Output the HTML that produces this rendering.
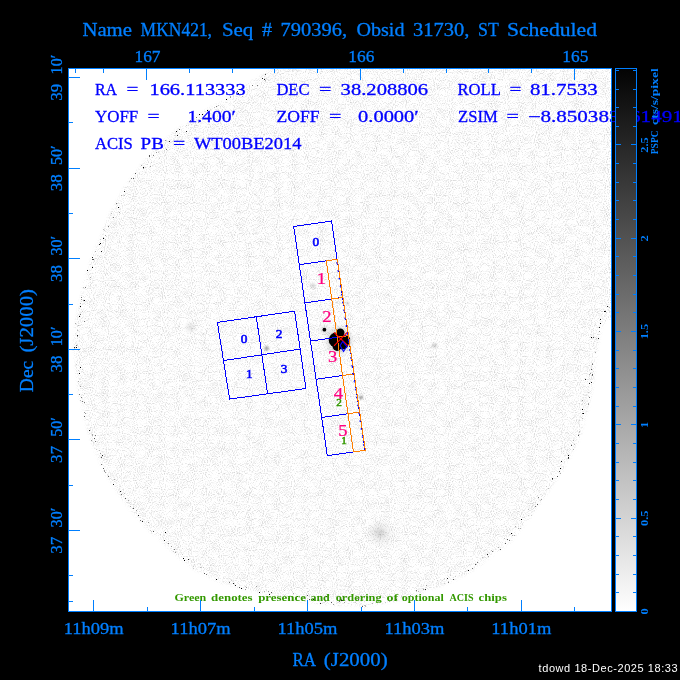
<!DOCTYPE html>
<html lang="en"><head><meta charset="utf-8"><title>MKN421 ACIS overlay</title>
<style>html,body{margin:0;padding:0;background:#000;}body{width:680px;height:680px;overflow:hidden;}svg{display:block;}text{font-family:'Liberation Serif', serif;white-space:pre;}</style></head><body>
<svg width="680" height="680" viewBox="0 0 680 680">
<defs>
<filter id="nz" x="0" y="0" width="100%" height="100%" color-interpolation-filters="sRGB"><feTurbulence type="fractalNoise" baseFrequency="0.93 0.87" numOctaves="1" seed="11" result="t1"/><feTurbulence type="fractalNoise" baseFrequency="0.11" numOctaves="2" seed="5" result="t2"/><feComposite in="t1" in2="t2" operator="arithmetic" k1="0" k2="0.9" k3="0.22" k4="0" result="m"/><feColorMatrix in="m" type="matrix" values="0 0 0 0 0  0 0 0 0 0  0 0 0 0 0  0 0 0 0.55 -0.297"/></filter>
<filter id="b1" x="-50%" y="-50%" width="200%" height="200%"><feGaussianBlur stdDeviation="1"/></filter>
<filter id="b15" x="-5%" y="-5%" width="110%" height="110%"><feGaussianBlur stdDeviation="1.6"/></filter>
<filter id="b2" x="-50%" y="-50%" width="200%" height="200%"><feGaussianBlur stdDeviation="2"/></filter>
<filter id="b4" x="-50%" y="-50%" width="200%" height="200%"><feGaussianBlur stdDeviation="4"/></filter>
<filter id="b07" x="-50%" y="-50%" width="200%" height="200%"><feGaussianBlur stdDeviation="0.7"/></filter>
<clipPath id="fld"><polygon points="273.0,68.0 611.5,68.0 611.5,307.0 602.5,325.0 597.5,350.0 593.7,382.5 587.5,412.5 580.0,437.5 570.0,457.5 562.5,470.0 548.0,492.0 530.0,518.0 510.0,542.5 490.0,557.5 470.0,572.5 450.0,582.5 430.0,590.0 402.5,600.0 365.0,607.5 340.0,606.0 307.0,602.5 270.0,596.0 245.0,590.0 220.0,582.5 195.0,570.0 175.0,555.0 163.0,542.5 145.5,527.5 130.5,510.0 115.5,490.0 103.0,470.0 93.0,447.5 85.5,422.5 79.2,397.5 75.5,370.0 73.0,347.5 74.2,330.0 79.2,305.0 84.2,280.0 91.7,257.5 100.0,238.0 108.5,215.5 123.5,188.0 144.5,160.5 170.5,134.2 193.0,118.0 207.0,109.0 220.0,102.7 234.7,92.4 252.4,80.8 268.5,70.6"/></clipPath>
<mask id="fm" maskUnits="userSpaceOnUse" x="60" y="50" width="570" height="570"><polygon points="273.0,56.0 624.0,56.0 624.0,307.0 602.5,325.0 597.5,350.0 593.7,382.5 587.5,412.5 580.0,437.5 570.0,457.5 562.5,470.0 548.0,492.0 530.0,518.0 510.0,542.5 490.0,557.5 470.0,572.5 450.0,582.5 430.0,590.0 402.5,600.0 365.0,607.5 340.0,606.0 307.0,602.5 270.0,596.0 245.0,590.0 220.0,582.5 195.0,570.0 175.0,555.0 163.0,542.5 145.5,527.5 130.5,510.0 115.5,490.0 103.0,470.0 93.0,447.5 85.5,422.5 79.2,397.5 75.5,370.0 73.0,347.5 74.2,330.0 79.2,305.0 84.2,280.0 91.7,257.5 100.0,238.0 108.5,215.5 123.5,188.0 144.5,160.5 170.5,134.2 193.0,118.0 207.0,109.0 220.0,102.7 234.7,92.4 252.4,80.8 268.5,70.6" fill="#fff" filter="url(#b15)"/></mask>
<linearGradient id="cb" x1="0" y1="0" x2="0" y2="1"><stop offset="0" stop-color="#030303"/><stop offset="1" stop-color="#ffffff"/></linearGradient>
<clipPath id="box"><rect x="69" y="69" width="542" height="542"/></clipPath>
</defs>
<rect x="0" y="0" width="680" height="680" fill="#000"/>
<rect x="68" y="68" width="544" height="544" fill="#fff"/>
<g clip-path="url(#box)"><g mask="url(#fm)">
<rect x="68" y="68" width="544" height="544" fill="#000" filter="url(#nz)"/>
<circle cx="190.5" cy="327.5" r="4" fill="#000" opacity="0.11" filter="url(#b2)"/>
<circle cx="434.5" cy="345.5" r="2.5" fill="#000" opacity="0.16" filter="url(#b1)"/>
<circle cx="380" cy="533" r="9" fill="#000" opacity="0.1" filter="url(#b4)"/>
<circle cx="380" cy="533" r="3.5" fill="#000" opacity="0.1" filter="url(#b2)"/>
<circle cx="266.6" cy="348.4" r="2.2" fill="#000" opacity="0.4" filter="url(#b1)"/>
<circle cx="361" cy="397.6" r="1.8" fill="#000" opacity="0.45" filter="url(#b1)"/>
<circle cx="347.4" cy="303.2" r="2" fill="#000" opacity="0.15" filter="url(#b1)"/>
<circle cx="313" cy="285.7" r="2.5" fill="#000" opacity="0.14" filter="url(#b1)"/>
<circle cx="324.4" cy="329.7" r="4" fill="#000" opacity="0.12" filter="url(#b2)"/>
<g filter="url(#b07)" fill="#000">
<circle cx="336.3" cy="340" r="7.6"/><circle cx="340.3" cy="332.8" r="4.2"/><circle cx="342.5" cy="343" r="6.4"/><circle cx="337" cy="346.5" r="4.4"/><circle cx="345.2" cy="340" r="5"/><circle cx="324.4" cy="329.7" r="1.9"/>
</g>
<circle cx="339" cy="340" r="13" fill="#000" opacity="0.12" filter="url(#b2)"/>
</g></g>
<g shape-rendering="crispEdges"><rect x="605" y="311" width="1" height="1" fill="#222"/><rect x="600" y="319" width="1" height="1" fill="#222"/><rect x="604" y="311" width="1" height="1" fill="#000"/><rect x="609" y="307" width="1" height="1" fill="#bbb"/><rect x="607" y="306" width="1" height="1" fill="#222"/><rect x="600" y="323" width="1" height="1" fill="#000"/><rect x="591" y="337" width="1" height="1" fill="#000"/><rect x="593" y="337" width="1" height="1" fill="#555"/><rect x="599" y="331" width="1" height="1" fill="#999"/><rect x="598" y="338" width="1" height="1" fill="#555"/><rect x="599" y="327" width="1" height="1" fill="#222"/><rect x="598" y="338" width="1" height="1" fill="#222"/><rect x="596" y="338" width="1" height="1" fill="#ccc"/><rect x="592" y="363" width="1" height="1" fill="#aaa"/><rect x="592" y="364" width="1" height="1" fill="#777"/><rect x="592" y="375" width="1" height="1" fill="#777"/><rect x="595" y="352" width="1" height="1" fill="#aaa"/><rect x="590" y="373" width="1" height="1" fill="#999"/><rect x="591" y="369" width="1" height="1" fill="#555"/><rect x="592" y="374" width="1" height="1" fill="#555"/><rect x="585" y="379" width="1" height="1" fill="#222"/><rect x="589" y="374" width="1" height="1" fill="#aaa"/><rect x="588" y="392" width="1" height="1" fill="#ccc"/><rect x="589" y="383" width="1" height="1" fill="#222"/><rect x="582" y="409" width="1" height="1" fill="#000"/><rect x="588" y="404" width="1" height="1" fill="#999"/><rect x="582" y="400" width="1" height="1" fill="#999"/><rect x="588" y="403" width="1" height="1" fill="#aaa"/><rect x="591" y="382" width="1" height="1" fill="#222"/><rect x="589" y="397" width="1" height="1" fill="#777"/><rect x="579" y="431" width="1" height="1" fill="#bbb"/><rect x="578" y="434" width="1" height="1" fill="#ccc"/><rect x="582" y="413" width="1" height="1" fill="#555"/><rect x="579" y="432" width="1" height="1" fill="#ccc"/><rect x="582" y="418" width="1" height="1" fill="#bbb"/><rect x="578" y="435" width="1" height="1" fill="#555"/><rect x="583" y="413" width="1" height="1" fill="#000"/><rect x="571" y="445" width="1" height="1" fill="#555"/><rect x="573" y="440" width="1" height="1" fill="#aaa"/><rect x="573" y="449" width="1" height="1" fill="#aaa"/><rect x="568" y="455" width="1" height="1" fill="#000"/><rect x="571" y="444" width="1" height="1" fill="#ccc"/><rect x="574" y="444" width="1" height="1" fill="#bbb"/><rect x="568" y="457" width="1" height="1" fill="#222"/><rect x="560" y="468" width="1" height="1" fill="#000"/><rect x="568" y="458" width="1" height="1" fill="#555"/><rect x="561" y="461" width="1" height="1" fill="#222"/><rect x="548" y="488" width="1" height="1" fill="#bbb"/><rect x="560" y="473" width="1" height="1" fill="#aaa"/><rect x="552" y="478" width="1" height="1" fill="#222"/><rect x="546" y="486" width="1" height="1" fill="#ccc"/><rect x="557" y="476" width="1" height="1" fill="#555"/><rect x="559" y="471" width="1" height="1" fill="#555"/><rect x="552" y="479" width="1" height="1" fill="#777"/><rect x="528" y="515" width="1" height="1" fill="#ccc"/><rect x="531" y="515" width="1" height="1" fill="#ccc"/><rect x="541" y="499" width="1" height="1" fill="#999"/><rect x="537" y="504" width="1" height="1" fill="#555"/><rect x="540" y="500" width="1" height="1" fill="#ccc"/><rect x="538" y="497" width="1" height="1" fill="#777"/><rect x="535" y="506" width="1" height="1" fill="#777"/><rect x="528" y="509" width="1" height="1" fill="#bbb"/><rect x="514" y="535" width="1" height="1" fill="#aaa"/><rect x="511" y="533" width="1" height="1" fill="#000"/><rect x="512" y="535" width="1" height="1" fill="#aaa"/><rect x="520" y="528" width="1" height="1" fill="#aaa"/><rect x="509" y="540" width="1" height="1" fill="#777"/><rect x="518" y="528" width="1" height="1" fill="#aaa"/><rect x="521" y="519" width="1" height="1" fill="#000"/><rect x="515" y="526" width="1" height="1" fill="#aaa"/><rect x="491" y="550" width="1" height="1" fill="#bbb"/><rect x="492" y="551" width="1" height="1" fill="#777"/><rect x="498" y="547" width="1" height="1" fill="#aaa"/><rect x="504" y="538" width="1" height="1" fill="#bbb"/><rect x="500" y="549" width="1" height="1" fill="#555"/><rect x="505" y="543" width="1" height="1" fill="#555"/><rect x="507" y="539" width="1" height="1" fill="#555"/><rect x="476" y="564" width="1" height="1" fill="#ccc"/><rect x="475" y="564" width="1" height="1" fill="#555"/><rect x="487" y="554" width="1" height="1" fill="#222"/><rect x="477" y="562" width="1" height="1" fill="#777"/><rect x="472" y="568" width="1" height="1" fill="#777"/><rect x="488" y="556" width="1" height="1" fill="#aaa"/><rect x="482" y="557" width="1" height="1" fill="#bbb"/><rect x="450" y="575" width="1" height="1" fill="#ccc"/><rect x="455" y="576" width="1" height="1" fill="#ccc"/><rect x="459" y="573" width="1" height="1" fill="#ccc"/><rect x="465" y="571" width="1" height="1" fill="#ccc"/><rect x="468" y="570" width="1" height="1" fill="#000"/><rect x="453" y="579" width="1" height="1" fill="#555"/><rect x="444" y="578" width="1" height="1" fill="#ccc"/><rect x="448" y="581" width="1" height="1" fill="#ccc"/><rect x="437" y="580" width="1" height="1" fill="#ccc"/><rect x="448" y="582" width="1" height="1" fill="#777"/><rect x="444" y="583" width="1" height="1" fill="#ccc"/><rect x="447" y="578" width="1" height="1" fill="#222"/><rect x="416" y="591" width="1" height="1" fill="#ccc"/><rect x="423" y="589" width="1" height="1" fill="#999"/><rect x="416" y="590" width="1" height="1" fill="#777"/><rect x="410" y="595" width="1" height="1" fill="#999"/><rect x="403" y="597" width="1" height="1" fill="#ccc"/><rect x="425" y="589" width="1" height="1" fill="#222"/><rect x="418" y="591" width="1" height="1" fill="#bbb"/><rect x="426" y="585" width="1" height="1" fill="#999"/><rect x="372" y="603" width="1" height="1" fill="#aaa"/><rect x="396" y="599" width="1" height="1" fill="#555"/><rect x="365" y="605" width="1" height="1" fill="#bbb"/><rect x="367" y="597" width="1" height="1" fill="#555"/><rect x="365" y="606" width="1" height="1" fill="#bbb"/><rect x="364" y="605" width="1" height="1" fill="#bbb"/><rect x="389" y="601" width="1" height="1" fill="#aaa"/><rect x="401" y="596" width="1" height="1" fill="#ccc"/><rect x="385" y="602" width="1" height="1" fill="#ccc"/><rect x="378" y="601" width="1" height="1" fill="#ccc"/><rect x="341" y="599" width="1" height="1" fill="#777"/><rect x="341" y="600" width="1" height="1" fill="#222"/><rect x="362" y="606" width="1" height="1" fill="#555"/><rect x="358" y="599" width="1" height="1" fill="#555"/><rect x="344" y="602" width="1" height="1" fill="#999"/><rect x="355" y="602" width="1" height="1" fill="#ccc"/><rect x="342" y="600" width="1" height="1" fill="#222"/><rect x="331" y="602" width="1" height="1" fill="#555"/><rect x="326" y="596" width="1" height="1" fill="#222"/><rect x="313" y="599" width="1" height="1" fill="#222"/><rect x="320" y="603" width="1" height="1" fill="#222"/><rect x="325" y="601" width="1" height="1" fill="#aaa"/><rect x="307" y="595" width="1" height="1" fill="#555"/><rect x="339" y="601" width="1" height="1" fill="#777"/><rect x="309" y="599" width="1" height="1" fill="#555"/><rect x="333" y="604" width="1" height="1" fill="#999"/><rect x="284" y="595" width="1" height="1" fill="#ccc"/><rect x="288" y="598" width="1" height="1" fill="#555"/><rect x="297" y="596" width="1" height="1" fill="#000"/><rect x="308" y="591" width="1" height="1" fill="#ccc"/><rect x="286" y="597" width="1" height="1" fill="#ccc"/><rect x="303" y="597" width="1" height="1" fill="#bbb"/><rect x="284" y="590" width="1" height="1" fill="#ccc"/><rect x="296" y="598" width="1" height="1" fill="#777"/><rect x="271" y="592" width="1" height="1" fill="#555"/><rect x="293" y="593" width="1" height="1" fill="#aaa"/><rect x="245" y="589" width="1" height="1" fill="#999"/><rect x="259" y="592" width="1" height="1" fill="#000"/><rect x="268" y="591" width="1" height="1" fill="#999"/><rect x="256" y="586" width="1" height="1" fill="#999"/><rect x="269" y="594" width="1" height="1" fill="#000"/><rect x="264" y="591" width="1" height="1" fill="#aaa"/><rect x="246" y="587" width="1" height="1" fill="#999"/><rect x="239" y="587" width="1" height="1" fill="#555"/><rect x="245" y="586" width="1" height="1" fill="#ccc"/><rect x="229" y="582" width="1" height="1" fill="#777"/><rect x="233" y="583" width="1" height="1" fill="#222"/><rect x="241" y="588" width="1" height="1" fill="#000"/><rect x="235" y="585" width="1" height="1" fill="#222"/><rect x="231" y="580" width="1" height="1" fill="#ccc"/><rect x="200" y="567" width="1" height="1" fill="#bbb"/><rect x="203" y="567" width="1" height="1" fill="#ccc"/><rect x="216" y="579" width="1" height="1" fill="#000"/><rect x="201" y="567" width="1" height="1" fill="#ccc"/><rect x="204" y="573" width="1" height="1" fill="#555"/><rect x="200" y="564" width="1" height="1" fill="#ccc"/><rect x="206" y="574" width="1" height="1" fill="#777"/><rect x="193" y="568" width="1" height="1" fill="#000"/><rect x="193" y="566" width="1" height="1" fill="#ccc"/><rect x="184" y="560" width="1" height="1" fill="#000"/><rect x="183" y="558" width="1" height="1" fill="#000"/><rect x="188" y="559" width="1" height="1" fill="#222"/><rect x="182" y="554" width="1" height="1" fill="#ccc"/><rect x="193" y="568" width="1" height="1" fill="#ccc"/><rect x="174" y="549" width="1" height="1" fill="#777"/><rect x="173" y="551" width="1" height="1" fill="#ccc"/><rect x="171" y="546" width="1" height="1" fill="#999"/><rect x="168" y="543" width="1" height="1" fill="#777"/><rect x="175" y="552" width="1" height="1" fill="#999"/><rect x="153" y="531" width="1" height="1" fill="#555"/><rect x="164" y="540" width="1" height="1" fill="#222"/><rect x="151" y="531" width="1" height="1" fill="#ccc"/><rect x="160" y="534" width="1" height="1" fill="#ccc"/><rect x="150" y="530" width="1" height="1" fill="#ccc"/><rect x="165" y="532" width="1" height="1" fill="#000"/><rect x="142" y="521" width="1" height="1" fill="#222"/><rect x="136" y="510" width="1" height="1" fill="#999"/><rect x="140" y="520" width="1" height="1" fill="#777"/><rect x="148" y="522" width="1" height="1" fill="#999"/><rect x="133" y="508" width="1" height="1" fill="#555"/><rect x="138" y="515" width="1" height="1" fill="#222"/><rect x="121" y="494" width="1" height="1" fill="#777"/><rect x="125" y="498" width="1" height="1" fill="#555"/><rect x="132" y="508" width="1" height="1" fill="#ccc"/><rect x="124" y="493" width="1" height="1" fill="#bbb"/><rect x="128" y="500" width="1" height="1" fill="#aaa"/><rect x="130" y="506" width="1" height="1" fill="#aaa"/><rect x="120" y="491" width="1" height="1" fill="#222"/><rect x="104" y="470" width="1" height="1" fill="#999"/><rect x="113" y="484" width="1" height="1" fill="#222"/><rect x="114" y="479" width="1" height="1" fill="#aaa"/><rect x="104" y="471" width="1" height="1" fill="#999"/><rect x="105" y="472" width="1" height="1" fill="#999"/><rect x="108" y="476" width="1" height="1" fill="#555"/><rect x="101" y="464" width="1" height="1" fill="#777"/><rect x="99" y="450" width="1" height="1" fill="#bbb"/><rect x="96" y="449" width="1" height="1" fill="#ccc"/><rect x="102" y="455" width="1" height="1" fill="#222"/><rect x="103" y="468" width="1" height="1" fill="#555"/><rect x="100" y="453" width="1" height="1" fill="#999"/><rect x="101" y="457" width="1" height="1" fill="#555"/><rect x="92" y="434" width="1" height="1" fill="#aaa"/><rect x="91" y="440" width="1" height="1" fill="#999"/><rect x="95" y="435" width="1" height="1" fill="#777"/><rect x="94" y="438" width="1" height="1" fill="#555"/><rect x="89" y="430" width="1" height="1" fill="#222"/><rect x="95" y="441" width="1" height="1" fill="#777"/><rect x="92" y="435" width="1" height="1" fill="#aaa"/><rect x="81" y="397" width="1" height="1" fill="#777"/><rect x="84" y="416" width="1" height="1" fill="#555"/><rect x="85" y="413" width="1" height="1" fill="#999"/><rect x="82" y="401" width="1" height="1" fill="#777"/><rect x="80" y="400" width="1" height="1" fill="#bbb"/><rect x="84" y="402" width="1" height="1" fill="#777"/><rect x="84" y="412" width="1" height="1" fill="#999"/><rect x="78" y="381" width="1" height="1" fill="#aaa"/><rect x="84" y="393" width="1" height="1" fill="#777"/><rect x="79" y="394" width="1" height="1" fill="#777"/><rect x="80" y="386" width="1" height="1" fill="#999"/><rect x="79" y="373" width="1" height="1" fill="#000"/><rect x="84" y="393" width="1" height="1" fill="#ccc"/><rect x="78" y="370" width="1" height="1" fill="#ccc"/><rect x="82" y="369" width="1" height="1" fill="#ccc"/><rect x="78" y="350" width="1" height="1" fill="#ccc"/><rect x="76" y="364" width="1" height="1" fill="#ccc"/><rect x="74" y="347" width="1" height="1" fill="#222"/><rect x="74" y="348" width="1" height="1" fill="#ccc"/><rect x="80" y="367" width="1" height="1" fill="#000"/><rect x="76" y="347" width="1" height="1" fill="#000"/><rect x="77" y="336" width="1" height="1" fill="#999"/><rect x="77" y="330" width="1" height="1" fill="#bbb"/><rect x="77" y="335" width="1" height="1" fill="#222"/><rect x="76" y="345" width="1" height="1" fill="#777"/><rect x="84" y="321" width="1" height="1" fill="#777"/><rect x="82" y="311" width="1" height="1" fill="#ccc"/><rect x="75" y="323" width="1" height="1" fill="#aaa"/><rect x="80" y="314" width="1" height="1" fill="#777"/><rect x="79" y="316" width="1" height="1" fill="#000"/><rect x="80" y="306" width="1" height="1" fill="#000"/><rect x="78" y="325" width="1" height="1" fill="#bbb"/><rect x="80" y="303" width="1" height="1" fill="#aaa"/><rect x="84" y="300" width="1" height="1" fill="#000"/><rect x="83" y="287" width="1" height="1" fill="#bbb"/><rect x="83" y="300" width="1" height="1" fill="#999"/><rect x="85" y="287" width="1" height="1" fill="#777"/><rect x="81" y="297" width="1" height="1" fill="#777"/><rect x="81" y="299" width="1" height="1" fill="#999"/><rect x="90" y="279" width="1" height="1" fill="#ccc"/><rect x="92" y="267" width="1" height="1" fill="#000"/><rect x="93" y="259" width="1" height="1" fill="#555"/><rect x="92" y="259" width="1" height="1" fill="#555"/><rect x="87" y="270" width="1" height="1" fill="#000"/><rect x="90" y="277" width="1" height="1" fill="#aaa"/><rect x="99" y="244" width="1" height="1" fill="#222"/><rect x="100" y="239" width="1" height="1" fill="#ccc"/><rect x="100" y="243" width="1" height="1" fill="#000"/><rect x="95" y="251" width="1" height="1" fill="#aaa"/><rect x="101" y="251" width="1" height="1" fill="#222"/><rect x="92" y="257" width="1" height="1" fill="#222"/><rect x="108" y="226" width="1" height="1" fill="#777"/><rect x="103" y="229" width="1" height="1" fill="#bbb"/><rect x="103" y="237" width="1" height="1" fill="#ccc"/><rect x="105" y="235" width="1" height="1" fill="#aaa"/><rect x="104" y="230" width="1" height="1" fill="#ccc"/><rect x="105" y="239" width="1" height="1" fill="#bbb"/><rect x="103" y="238" width="1" height="1" fill="#000"/><rect x="116" y="203" width="1" height="1" fill="#777"/><rect x="121" y="195" width="1" height="1" fill="#aaa"/><rect x="118" y="207" width="1" height="1" fill="#000"/><rect x="119" y="212" width="1" height="1" fill="#aaa"/><rect x="124" y="191" width="1" height="1" fill="#222"/><rect x="113" y="217" width="1" height="1" fill="#777"/><rect x="111" y="213" width="1" height="1" fill="#bbb"/><rect x="124" y="195" width="1" height="1" fill="#bbb"/><rect x="143" y="167" width="1" height="1" fill="#000"/><rect x="143" y="168" width="1" height="1" fill="#999"/><rect x="141" y="165" width="1" height="1" fill="#aaa"/><rect x="145" y="167" width="1" height="1" fill="#ccc"/><rect x="131" y="178" width="1" height="1" fill="#777"/><rect x="133" y="178" width="1" height="1" fill="#555"/><rect x="129" y="181" width="1" height="1" fill="#ccc"/><rect x="135" y="173" width="1" height="1" fill="#555"/><rect x="150" y="166" width="1" height="1" fill="#999"/><rect x="166" y="149" width="1" height="1" fill="#777"/><rect x="151" y="162" width="1" height="1" fill="#ccc"/><rect x="149" y="156" width="1" height="1" fill="#555"/><rect x="158" y="152" width="1" height="1" fill="#ccc"/><rect x="169" y="141" width="1" height="1" fill="#222"/><rect x="165" y="140" width="1" height="1" fill="#999"/><rect x="156" y="152" width="1" height="1" fill="#999"/><rect x="149" y="155" width="1" height="1" fill="#555"/><rect x="153" y="155" width="1" height="1" fill="#777"/><rect x="159" y="158" width="1" height="1" fill="#ccc"/><rect x="186" y="131" width="1" height="1" fill="#222"/><rect x="186" y="125" width="1" height="1" fill="#ccc"/><rect x="190" y="120" width="1" height="1" fill="#777"/><rect x="190" y="121" width="1" height="1" fill="#999"/><rect x="176" y="131" width="1" height="1" fill="#000"/><rect x="177" y="135" width="1" height="1" fill="#222"/><rect x="179" y="129" width="1" height="1" fill="#555"/><rect x="199" y="114" width="1" height="1" fill="#000"/><rect x="198" y="122" width="1" height="1" fill="#aaa"/><rect x="196" y="117" width="1" height="1" fill="#777"/><rect x="207" y="110" width="1" height="1" fill="#000"/><rect x="202" y="114" width="1" height="1" fill="#000"/><rect x="218" y="105" width="1" height="1" fill="#bbb"/><rect x="216" y="106" width="1" height="1" fill="#777"/><rect x="208" y="111" width="1" height="1" fill="#ccc"/><rect x="214" y="107" width="1" height="1" fill="#bbb"/><rect x="230" y="96" width="1" height="1" fill="#555"/><rect x="230" y="97" width="1" height="1" fill="#999"/><rect x="226" y="99" width="1" height="1" fill="#999"/><rect x="230" y="96" width="1" height="1" fill="#aaa"/><rect x="226" y="99" width="1" height="1" fill="#000"/><rect x="252" y="85" width="1" height="1" fill="#777"/><rect x="241" y="88" width="1" height="1" fill="#bbb"/><rect x="242" y="96" width="1" height="1" fill="#bbb"/><rect x="237" y="91" width="1" height="1" fill="#222"/><rect x="243" y="90" width="1" height="1" fill="#555"/><rect x="238" y="93" width="1" height="1" fill="#000"/><rect x="264" y="79" width="1" height="1" fill="#222"/><rect x="265" y="80" width="1" height="1" fill="#aaa"/><rect x="265" y="74" width="1" height="1" fill="#555"/><rect x="262" y="78" width="1" height="1" fill="#222"/><rect x="257" y="85" width="1" height="1" fill="#777"/></g>
<g fill="none" stroke="#0000ff" stroke-width="1" shape-rendering="crispEdges">
<polygon points="217.4,322.4 294.6,311.2 305.9,388.5 229.6,399.1"/>
<line x1="256.3" y1="316.8" x2="267.6" y2="394"/><line x1="223.5" y1="360.6" x2="299.7" y2="349.1"/>
<polygon points="293.7,226.5 331.5,221.0 365.1,450.2 327.3,455.7"/>
<line x1="299.3" y1="264.7" x2="337.1" y2="259.2"/>
<line x1="304.9" y1="302.9" x2="342.7" y2="297.4"/>
<line x1="310.5" y1="341.1" x2="348.3" y2="335.6"/>
<line x1="316.1" y1="379.3" x2="353.9" y2="373.8"/>
<line x1="321.7" y1="417.5" x2="359.5" y2="412.0"/>
</g>
<g fill="none" stroke="#ff7f00" stroke-width="1" shape-rendering="crispEdges">
<polygon points="326.3,260.8 337.3,259.2 365.3,450.2 353.4,451.9"/>
<line x1="331.7" y1="299.0" x2="342.9" y2="297.4"/>
<line x1="337.1" y1="337.2" x2="348.5" y2="335.6"/>
<line x1="342.6" y1="375.5" x2="354.1" y2="373.8"/>
<line x1="348.0" y1="413.7" x2="359.7" y2="412.0"/>
</g>
<line x1="336.3" y1="259.2" x2="364.3" y2="450.2" stroke="#0000ff" stroke-width="1" stroke-dasharray="1.6 6.4" stroke-dashoffset="-3"/>
<g stroke="#ff0000" stroke-width="1.1"><line x1="334" y1="332.3" x2="347.7" y2="345.5"/><line x1="334" y1="345.8" x2="347.2" y2="332.4"/></g>
<polygon points="342.6,341.5 340.2,345.5 343.5,351.5 346.8,346.6" fill="none" stroke="#0000ff" stroke-width="1.1"/>
<text transform="translate(244.10 342.76) scale(1.05 1)" font-size="12.6" fill="#0000ff" text-anchor="middle" font-weight="normal" stroke="#0000ff" stroke-width="0.6">0</text>
<text transform="translate(279.10 337.96) scale(1.05 1)" font-size="12.6" fill="#0000ff" text-anchor="middle" font-weight="normal" stroke="#0000ff" stroke-width="0.6">2</text>
<text transform="translate(249.40 377.96) scale(1.05 1)" font-size="12.6" fill="#0000ff" text-anchor="middle" font-weight="normal" stroke="#0000ff" stroke-width="0.6">1</text>
<text transform="translate(284.00 372.76) scale(1.05 1)" font-size="12.6" fill="#0000ff" text-anchor="middle" font-weight="normal" stroke="#0000ff" stroke-width="0.6">3</text>
<text transform="translate(315.70 245.86) scale(1.05 1)" font-size="12.6" fill="#0000ff" text-anchor="middle" font-weight="normal" stroke="#0000ff" stroke-width="0.6">0</text>
<text transform="translate(321.50 284.01) scale(1.12 1)" font-size="16.6" fill="#ff007f" text-anchor="middle" font-weight="normal" stroke="#ff007f" stroke-width="0.25">1</text>
<text transform="translate(326.80 322.11) scale(1.12 1)" font-size="16.6" fill="#ff007f" text-anchor="middle" font-weight="normal" stroke="#ff007f" stroke-width="0.25">2</text>
<text transform="translate(332.60 361.81) scale(1.12 1)" font-size="16.6" fill="#ff007f" text-anchor="middle" font-weight="normal" stroke="#ff007f" stroke-width="0.25">3</text>
<text transform="translate(338.50 398.81) scale(1.12 1)" font-size="16.6" fill="#ff007f" text-anchor="middle" font-weight="normal" stroke="#ff007f" stroke-width="0.25">4</text>
<text transform="translate(343.00 436.21) scale(1.12 1)" font-size="16.6" fill="#ff007f" text-anchor="middle" font-weight="normal" stroke="#ff007f" stroke-width="0.25">5</text>
<text transform="translate(339.00 406.05) scale(1.1 1)" font-size="10.2" fill="#339900" text-anchor="middle" font-weight="normal" stroke="#339900" stroke-width="0.5">2</text>
<text transform="translate(344.10 443.75) scale(1.1 1)" font-size="10.2" fill="#339900" text-anchor="middle" font-weight="normal" stroke="#339900" stroke-width="0.5">1</text>
<text transform="translate(94.90 95.10)" font-size="16.3" fill="#0000ff" text-anchor="start" font-weight="normal" textLength="22.10" lengthAdjust="spacingAndGlyphs" stroke="#0000ff" stroke-width="0.3">RA</text>
<text transform="translate(126.40 95.10)" font-size="16.3" fill="#0000ff" text-anchor="start" font-weight="normal" textLength="11.90" lengthAdjust="spacingAndGlyphs" stroke="#0000ff" stroke-width="0.3">=</text>
<text transform="translate(149.40 95.10)" font-size="16.3" fill="#0000ff" text-anchor="start" font-weight="normal" textLength="96.40" lengthAdjust="spacingAndGlyphs" stroke="#0000ff" stroke-width="0.3">166.113333</text>
<text transform="translate(276.40 95.10)" font-size="16.3" fill="#0000ff" text-anchor="start" font-weight="normal" textLength="33.10" lengthAdjust="spacingAndGlyphs" stroke="#0000ff" stroke-width="0.3">DEC</text>
<text transform="translate(318.90 95.10)" font-size="16.3" fill="#0000ff" text-anchor="start" font-weight="normal" textLength="12.40" lengthAdjust="spacingAndGlyphs" stroke="#0000ff" stroke-width="0.3">=</text>
<text transform="translate(340.60 95.10)" font-size="16.3" fill="#0000ff" text-anchor="start" font-weight="normal" textLength="87.50" lengthAdjust="spacingAndGlyphs" stroke="#0000ff" stroke-width="0.3">38.208806</text>
<text transform="translate(457.40 95.10)" font-size="16.3" fill="#0000ff" text-anchor="start" font-weight="normal" textLength="43.40" lengthAdjust="spacingAndGlyphs" stroke="#0000ff" stroke-width="0.3">ROLL</text>
<text transform="translate(509.40 95.10)" font-size="16.3" fill="#0000ff" text-anchor="start" font-weight="normal" textLength="11.90" lengthAdjust="spacingAndGlyphs" stroke="#0000ff" stroke-width="0.3">=</text>
<text transform="translate(529.90 95.10)" font-size="16.3" fill="#0000ff" text-anchor="start" font-weight="normal" textLength="67.90" lengthAdjust="spacingAndGlyphs" stroke="#0000ff" stroke-width="0.3">81.7533</text>
<text transform="translate(94.90 121.80)" font-size="16.3" fill="#0000ff" text-anchor="start" font-weight="normal" textLength="43.40" lengthAdjust="spacingAndGlyphs" stroke="#0000ff" stroke-width="0.3">YOFF</text>
<text transform="translate(147.40 121.80)" font-size="16.3" fill="#0000ff" text-anchor="start" font-weight="normal" textLength="12.10" lengthAdjust="spacingAndGlyphs" stroke="#0000ff" stroke-width="0.3">=</text>
<text transform="translate(187.40 121.80)" font-size="16.3" fill="#0000ff" text-anchor="start" font-weight="normal" textLength="48.40" lengthAdjust="spacingAndGlyphs" stroke="#0000ff" stroke-width="0.3">1.400′</text>
<text transform="translate(276.40 121.80)" font-size="16.3" fill="#0000ff" text-anchor="start" font-weight="normal" textLength="43.10" lengthAdjust="spacingAndGlyphs" stroke="#0000ff" stroke-width="0.3">ZOFF</text>
<text transform="translate(328.90 121.80)" font-size="16.3" fill="#0000ff" text-anchor="start" font-weight="normal" textLength="12.40" lengthAdjust="spacingAndGlyphs" stroke="#0000ff" stroke-width="0.3">=</text>
<text transform="translate(358.10 121.80)" font-size="16.3" fill="#0000ff" text-anchor="start" font-weight="normal" textLength="60.70" lengthAdjust="spacingAndGlyphs" stroke="#0000ff" stroke-width="0.3">0.0000′</text>
<text transform="translate(458.10 121.80)" font-size="16.3" fill="#0000ff" text-anchor="start" font-weight="normal" textLength="39.70" lengthAdjust="spacingAndGlyphs" stroke="#0000ff" stroke-width="0.3">ZSIM</text>
<text transform="translate(506.40 121.80)" font-size="16.3" fill="#0000ff" text-anchor="start" font-weight="normal" textLength="12.40" lengthAdjust="spacingAndGlyphs" stroke="#0000ff" stroke-width="0.3">=</text>
<text transform="translate(528.10 121.80)" font-size="16.3" fill="#0000ff" text-anchor="start" font-weight="normal" textLength="12.70" lengthAdjust="spacingAndGlyphs" stroke="#0000ff" stroke-width="0.3">−</text>
<text transform="translate(540.40 121.80)" font-size="16.3" fill="#0000ff" text-anchor="start" font-weight="normal" textLength="142.40" lengthAdjust="spacingAndGlyphs" stroke="#0000ff" stroke-width="0.3">8.850383461491</text>
<text transform="translate(94.90 148.50)" font-size="16.3" fill="#0000ff" text-anchor="start" font-weight="normal" textLength="37.90" lengthAdjust="spacingAndGlyphs" stroke="#0000ff" stroke-width="0.3">ACIS</text>
<text transform="translate(140.60 148.50)" font-size="16.3" fill="#0000ff" text-anchor="start" font-weight="normal" textLength="23.20" lengthAdjust="spacingAndGlyphs" stroke="#0000ff" stroke-width="0.3">PB</text>
<text transform="translate(173.10 148.50)" font-size="16.3" fill="#0000ff" text-anchor="start" font-weight="normal" textLength="12.20" lengthAdjust="spacingAndGlyphs" stroke="#0000ff" stroke-width="0.3">=</text>
<text transform="translate(193.90 148.50)" font-size="16.3" fill="#0000ff" text-anchor="start" font-weight="normal" textLength="107.60" lengthAdjust="spacingAndGlyphs" stroke="#0000ff" stroke-width="0.3">WT00BE2014</text>
<text transform="translate(174.50 601.20)" font-size="10.8" fill="#339900" text-anchor="start" font-weight="bold" textLength="31.80" lengthAdjust="spacingAndGlyphs">Green</text>
<text transform="translate(211.10 601.20)" font-size="10.8" fill="#339900" text-anchor="start" font-weight="bold" textLength="41.50" lengthAdjust="spacingAndGlyphs">denotes</text>
<text transform="translate(258.20 601.20)" font-size="10.8" fill="#339900" text-anchor="start" font-weight="bold" textLength="47.70" lengthAdjust="spacingAndGlyphs">presence</text>
<text transform="translate(310.40 601.20)" font-size="10.8" fill="#339900" text-anchor="start" font-weight="bold" textLength="19.40" lengthAdjust="spacingAndGlyphs">and</text>
<text transform="translate(335.70 601.20)" font-size="10.8" fill="#339900" text-anchor="start" font-weight="bold" textLength="45.90" lengthAdjust="spacingAndGlyphs">ordering</text>
<text transform="translate(386.60 601.20)" font-size="10.8" fill="#339900" text-anchor="start" font-weight="bold" textLength="11.70" lengthAdjust="spacingAndGlyphs">of</text>
<text transform="translate(401.80 601.20)" font-size="10.8" fill="#339900" text-anchor="start" font-weight="bold" textLength="42.10" lengthAdjust="spacingAndGlyphs">optional</text>
<text transform="translate(449.40 601.20)" font-size="10.8" fill="#339900" text-anchor="start" font-weight="bold" textLength="24.10" lengthAdjust="spacingAndGlyphs">ACIS</text>
<text transform="translate(478.50 601.20)" font-size="10.8" fill="#339900" text-anchor="start" font-weight="bold" textLength="28.40" lengthAdjust="spacingAndGlyphs">chips</text>
<g shape-rendering="crispEdges" fill="#007fff">
<rect x="68" y="68" width="544" height="1"/><rect x="68" y="611" width="544" height="1"/><rect x="68" y="68" width="1" height="544"/><rect x="611" y="68" width="1" height="544"/>
<rect x="68" y="77" width="12" height="1"/>
<rect x="68" y="122" width="5" height="1"/>
<rect x="68" y="168" width="12" height="1"/>
<rect x="68" y="213" width="5" height="1"/>
<rect x="68" y="258" width="12" height="1"/>
<rect x="68" y="304" width="5" height="1"/>
<rect x="68" y="349" width="12" height="1"/>
<rect x="68" y="394" width="5" height="1"/>
<rect x="68" y="439" width="12" height="1"/>
<rect x="68" y="485" width="5" height="1"/>
<rect x="68" y="530" width="12" height="1"/>
<rect x="68" y="575" width="5" height="1"/>
<rect x="68" y="601" width="5" height="1"/>
<rect x="93" y="600" width="1" height="12"/>
<rect x="147" y="607" width="1" height="5"/>
<rect x="200" y="600" width="1" height="12"/>
<rect x="254" y="607" width="1" height="5"/>
<rect x="307" y="600" width="1" height="12"/>
<rect x="361" y="607" width="1" height="5"/>
<rect x="414" y="600" width="1" height="12"/>
<rect x="467" y="607" width="1" height="5"/>
<rect x="521" y="600" width="1" height="12"/>
<rect x="574" y="607" width="1" height="5"/>
<rect x="103" y="68" width="1" height="5"/>
<rect x="146" y="68" width="1" height="12"/>
<rect x="189" y="68" width="1" height="5"/>
<rect x="232" y="68" width="1" height="5"/>
<rect x="274" y="68" width="1" height="5"/>
<rect x="317" y="68" width="1" height="5"/>
<rect x="360" y="68" width="1" height="12"/>
<rect x="403" y="68" width="1" height="5"/>
<rect x="446" y="68" width="1" height="5"/>
<rect x="488" y="68" width="1" height="5"/>
<rect x="531" y="68" width="1" height="5"/>
<rect x="574" y="68" width="1" height="12"/>
<rect x="75" y="68" width="1" height="5"/>
</g>
<rect x="615" y="68" width="22" height="544" fill="url(#cb)"/>
<g shape-rendering="crispEdges" fill="#007fff">
<rect x="615" y="68" width="22" height="1"/><rect x="615" y="611" width="22" height="1"/><rect x="615" y="68" width="1" height="544"/><rect x="636" y="68" width="1" height="544"/>
<rect x="615" y="611" width="6" height="1"/><rect x="631" y="611" width="6" height="1"/>
<rect x="615" y="592" width="4" height="1"/><rect x="633" y="592" width="4" height="1"/>
<rect x="615" y="574" width="4" height="1"/><rect x="633" y="574" width="4" height="1"/>
<rect x="615" y="555" width="4" height="1"/><rect x="633" y="555" width="4" height="1"/>
<rect x="615" y="536" width="4" height="1"/><rect x="633" y="536" width="4" height="1"/>
<rect x="615" y="518" width="6" height="1"/><rect x="631" y="518" width="6" height="1"/>
<rect x="615" y="499" width="4" height="1"/><rect x="633" y="499" width="4" height="1"/>
<rect x="615" y="480" width="4" height="1"/><rect x="633" y="480" width="4" height="1"/>
<rect x="615" y="462" width="4" height="1"/><rect x="633" y="462" width="4" height="1"/>
<rect x="615" y="443" width="4" height="1"/><rect x="633" y="443" width="4" height="1"/>
<rect x="615" y="424" width="6" height="1"/><rect x="631" y="424" width="6" height="1"/>
<rect x="615" y="406" width="4" height="1"/><rect x="633" y="406" width="4" height="1"/>
<rect x="615" y="387" width="4" height="1"/><rect x="633" y="387" width="4" height="1"/>
<rect x="615" y="368" width="4" height="1"/><rect x="633" y="368" width="4" height="1"/>
<rect x="615" y="350" width="4" height="1"/><rect x="633" y="350" width="4" height="1"/>
<rect x="615" y="331" width="6" height="1"/><rect x="631" y="331" width="6" height="1"/>
<rect x="615" y="312" width="4" height="1"/><rect x="633" y="312" width="4" height="1"/>
<rect x="615" y="294" width="4" height="1"/><rect x="633" y="294" width="4" height="1"/>
<rect x="615" y="275" width="4" height="1"/><rect x="633" y="275" width="4" height="1"/>
<rect x="615" y="256" width="4" height="1"/><rect x="633" y="256" width="4" height="1"/>
<rect x="615" y="238" width="6" height="1"/><rect x="631" y="238" width="6" height="1"/>
<rect x="615" y="219" width="4" height="1"/><rect x="633" y="219" width="4" height="1"/>
<rect x="615" y="200" width="4" height="1"/><rect x="633" y="200" width="4" height="1"/>
<rect x="615" y="182" width="4" height="1"/><rect x="633" y="182" width="4" height="1"/>
<rect x="615" y="163" width="4" height="1"/><rect x="633" y="163" width="4" height="1"/>
<rect x="615" y="144" width="6" height="1"/><rect x="631" y="144" width="6" height="1"/>
<rect x="615" y="126" width="4" height="1"/><rect x="633" y="126" width="4" height="1"/>
<rect x="615" y="107" width="4" height="1"/><rect x="633" y="107" width="4" height="1"/>
<rect x="615" y="89" width="4" height="1"/><rect x="633" y="89" width="4" height="1"/>
<rect x="615" y="70" width="4" height="1"/><rect x="633" y="70" width="4" height="1"/>
</g>
<rect x="611" y="68" width="1" height="544" fill="#007fff" shape-rendering="crispEdges"/>
<text transform="translate(647.90 611.50) rotate(-90) scale(1.15 1)" font-size="10.8" fill="#007fff" text-anchor="middle" font-weight="bold">0</text>
<text transform="translate(647.90 518.20) rotate(-90) scale(1.15 1)" font-size="10.8" fill="#007fff" text-anchor="middle" font-weight="bold">0.5</text>
<text transform="translate(647.90 424.90) rotate(-90) scale(1.15 1)" font-size="10.8" fill="#007fff" text-anchor="middle" font-weight="bold">1</text>
<text transform="translate(647.90 331.60) rotate(-90) scale(1.15 1)" font-size="10.8" fill="#007fff" text-anchor="middle" font-weight="bold">1.5</text>
<text transform="translate(647.90 238.30) rotate(-90) scale(1.15 1)" font-size="10.8" fill="#007fff" text-anchor="middle" font-weight="bold">2</text>
<text transform="translate(647.90 145.00) rotate(-90) scale(1.15 1)" font-size="10.8" fill="#007fff" text-anchor="middle" font-weight="bold">2.5</text>
<text transform="translate(658.40 154.20) rotate(-90)" font-size="11" fill="#007fff" text-anchor="start" font-weight="bold" textLength="23.80" lengthAdjust="spacingAndGlyphs">PSPC</text>
<text transform="translate(658.40 124.90) rotate(-90)" font-size="11" fill="#007fff" text-anchor="start" font-weight="bold" textLength="56.60" lengthAdjust="spacingAndGlyphs">cts/s/pixel</text>
<text transform="translate(82.40 35.80)" font-size="18.6" fill="#007fff" text-anchor="start" font-weight="normal" textLength="49.60" lengthAdjust="spacingAndGlyphs" stroke="#007fff" stroke-width="0.3">Name</text>
<text transform="translate(140.60 35.80)" font-size="18.6" fill="#007fff" text-anchor="start" font-weight="normal" textLength="71.40" lengthAdjust="spacingAndGlyphs" stroke="#007fff" stroke-width="0.3">MKN421,</text>
<text transform="translate(221.90 35.80)" font-size="18.6" fill="#007fff" text-anchor="start" font-weight="normal" textLength="31.40" lengthAdjust="spacingAndGlyphs" stroke="#007fff" stroke-width="0.3">Seq</text>
<text transform="translate(261.90 35.80)" font-size="18.6" fill="#007fff" text-anchor="start" font-weight="normal" textLength="10.10" lengthAdjust="spacingAndGlyphs" stroke="#007fff" stroke-width="0.3">#</text>
<text transform="translate(280.60 35.80)" font-size="18.6" fill="#007fff" text-anchor="start" font-weight="normal" textLength="66.40" lengthAdjust="spacingAndGlyphs" stroke="#007fff" stroke-width="0.3">790396,</text>
<text transform="translate(356.40 35.80)" font-size="18.6" fill="#007fff" text-anchor="start" font-weight="normal" textLength="48.10" lengthAdjust="spacingAndGlyphs" stroke="#007fff" stroke-width="0.3">Obsid</text>
<text transform="translate(413.10 35.80)" font-size="18.6" fill="#007fff" text-anchor="start" font-weight="normal" textLength="56.40" lengthAdjust="spacingAndGlyphs" stroke="#007fff" stroke-width="0.3">31730,</text>
<text transform="translate(478.10 35.80)" font-size="18.6" fill="#007fff" text-anchor="start" font-weight="normal" textLength="20.70" lengthAdjust="spacingAndGlyphs" stroke="#007fff" stroke-width="0.3">ST</text>
<text transform="translate(506.90 35.80)" font-size="18.6" fill="#007fff" text-anchor="start" font-weight="normal" textLength="90.10" lengthAdjust="spacingAndGlyphs" stroke="#007fff" stroke-width="0.3">Scheduled</text>
<text transform="translate(134.50 62.00)" font-size="16.3" fill="#007fff" text-anchor="start" font-weight="normal" textLength="26.00" lengthAdjust="spacingAndGlyphs" stroke="#007fff" stroke-width="0.3">167</text>
<text transform="translate(348.30 62.00)" font-size="16.3" fill="#007fff" text-anchor="start" font-weight="normal" textLength="26.00" lengthAdjust="spacingAndGlyphs" stroke="#007fff" stroke-width="0.3">166</text>
<text transform="translate(562.30 62.00)" font-size="16.3" fill="#007fff" text-anchor="start" font-weight="normal" textLength="26.00" lengthAdjust="spacingAndGlyphs" stroke="#007fff" stroke-width="0.3">165</text>
<text transform="translate(63.70 634.00)" font-size="16.1" fill="#007fff" text-anchor="start" font-weight="normal" textLength="60.00" lengthAdjust="spacingAndGlyphs" stroke="#007fff" stroke-width="0.3">11h09m</text>
<text transform="translate(170.60 634.00)" font-size="16.1" fill="#007fff" text-anchor="start" font-weight="normal" textLength="60.00" lengthAdjust="spacingAndGlyphs" stroke="#007fff" stroke-width="0.3">11h07m</text>
<text transform="translate(277.50 634.00)" font-size="16.1" fill="#007fff" text-anchor="start" font-weight="normal" textLength="60.00" lengthAdjust="spacingAndGlyphs" stroke="#007fff" stroke-width="0.3">11h05m</text>
<text transform="translate(384.40 634.00)" font-size="16.1" fill="#007fff" text-anchor="start" font-weight="normal" textLength="60.00" lengthAdjust="spacingAndGlyphs" stroke="#007fff" stroke-width="0.3">11h03m</text>
<text transform="translate(491.30 634.00)" font-size="16.1" fill="#007fff" text-anchor="start" font-weight="normal" textLength="60.00" lengthAdjust="spacingAndGlyphs" stroke="#007fff" stroke-width="0.3">11h01m</text>
<text transform="translate(292.40 666.00)" font-size="18.3" fill="#007fff" text-anchor="start" font-weight="normal" textLength="23.60" lengthAdjust="spacingAndGlyphs" stroke="#007fff" stroke-width="0.3">RA</text>
<text transform="translate(323.80 666.00)" font-size="18.3" fill="#007fff" text-anchor="start" font-weight="normal" textLength="63.80" lengthAdjust="spacingAndGlyphs" stroke="#007fff" stroke-width="0.3">(J2000)</text>
<text transform="translate(62.10 100.70) rotate(-90)" font-size="16.3" fill="#007fff" text-anchor="start" font-weight="normal" textLength="17.00" lengthAdjust="spacingAndGlyphs" stroke="#007fff" stroke-width="0.3">39</text>
<text transform="translate(62.10 74.40) rotate(-90)" font-size="16.3" fill="#007fff" text-anchor="start" font-weight="normal" textLength="19.60" lengthAdjust="spacingAndGlyphs" stroke="#007fff" stroke-width="0.3">10′</text>
<text transform="translate(62.10 191.30) rotate(-90)" font-size="16.3" fill="#007fff" text-anchor="start" font-weight="normal" textLength="17.00" lengthAdjust="spacingAndGlyphs" stroke="#007fff" stroke-width="0.3">38</text>
<text transform="translate(62.10 165.00) rotate(-90)" font-size="16.3" fill="#007fff" text-anchor="start" font-weight="normal" textLength="19.60" lengthAdjust="spacingAndGlyphs" stroke="#007fff" stroke-width="0.3">50′</text>
<text transform="translate(62.10 281.90) rotate(-90)" font-size="16.3" fill="#007fff" text-anchor="start" font-weight="normal" textLength="17.00" lengthAdjust="spacingAndGlyphs" stroke="#007fff" stroke-width="0.3">38</text>
<text transform="translate(62.10 255.60) rotate(-90)" font-size="16.3" fill="#007fff" text-anchor="start" font-weight="normal" textLength="19.60" lengthAdjust="spacingAndGlyphs" stroke="#007fff" stroke-width="0.3">30′</text>
<text transform="translate(62.10 372.50) rotate(-90)" font-size="16.3" fill="#007fff" text-anchor="start" font-weight="normal" textLength="17.00" lengthAdjust="spacingAndGlyphs" stroke="#007fff" stroke-width="0.3">38</text>
<text transform="translate(62.10 346.20) rotate(-90)" font-size="16.3" fill="#007fff" text-anchor="start" font-weight="normal" textLength="19.60" lengthAdjust="spacingAndGlyphs" stroke="#007fff" stroke-width="0.3">10′</text>
<text transform="translate(62.10 463.10) rotate(-90)" font-size="16.3" fill="#007fff" text-anchor="start" font-weight="normal" textLength="17.00" lengthAdjust="spacingAndGlyphs" stroke="#007fff" stroke-width="0.3">37</text>
<text transform="translate(62.10 436.80) rotate(-90)" font-size="16.3" fill="#007fff" text-anchor="start" font-weight="normal" textLength="19.60" lengthAdjust="spacingAndGlyphs" stroke="#007fff" stroke-width="0.3">50′</text>
<text transform="translate(62.10 553.70) rotate(-90)" font-size="16.3" fill="#007fff" text-anchor="start" font-weight="normal" textLength="17.00" lengthAdjust="spacingAndGlyphs" stroke="#007fff" stroke-width="0.3">37</text>
<text transform="translate(62.10 527.40) rotate(-90)" font-size="16.3" fill="#007fff" text-anchor="start" font-weight="normal" textLength="19.60" lengthAdjust="spacingAndGlyphs" stroke="#007fff" stroke-width="0.3">30′</text>
<text transform="translate(32.60 392.20) rotate(-90)" font-size="18.3" fill="#007fff" text-anchor="start" font-weight="normal" textLength="31.40" lengthAdjust="spacingAndGlyphs" stroke="#007fff" stroke-width="0.3">Dec</text>
<text transform="translate(32.60 352.60) rotate(-90)" font-size="18.3" fill="#007fff" text-anchor="start" font-weight="normal" textLength="63.60" lengthAdjust="spacingAndGlyphs" stroke="#007fff" stroke-width="0.3">(J2000)</text>
<text x="677.6" y="672.4" font-size="11" fill="#fff" text-anchor="end" style="font-family:'Liberation Sans',sans-serif" textLength="139" lengthAdjust="spacing">tdowd 18-Dec-2025 18:33</text>
</svg></body></html>
